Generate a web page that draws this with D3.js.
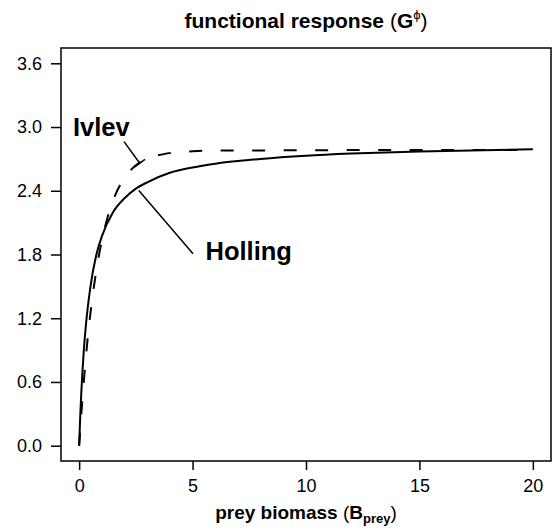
<!DOCTYPE html>
<html>
<head>
<meta charset="utf-8">
<script src="https://cdn.jsdelivr.net/npm/d3@7"></script>
<style>
  body { margin: 0; background: #fff; }
  svg { display: block; font-family: "Liberation Sans", Arial, Helvetica, sans-serif; }
  .tick text { font-size: 18px; fill: #000; }
  .tick line { stroke: #000; stroke-width: 1.5; }
</style>
</head>
<body>
<div id="chart"></div>
<script>
// prey biomass values where the curves were read
const biomass = [0, 0.05, 0.1, 0.2, 0.3, 0.5, 0.75, 1, 1.5, 2, 2.5, 3, 4, 5, 6, 8, 10, 12, 15, 20];
// Holling type II response (solid)
const holling = [0, 0.29, 0.52, 0.88, 1.14, 1.5, 1.79, 1.97, 2.2, 2.33, 2.42, 2.48, 2.57, 2.62, 2.655, 2.70, 2.73, 2.75, 2.77, 2.79];
// Ivlev response (dashed)
const ivlev = [0, 0.16, 0.31, 0.59, 0.84, 1.25, 1.64, 1.93, 2.31, 2.52, 2.64, 2.70, 2.755, 2.772, 2.778, 2.78, 2.782, 2.783, 2.784, 2.785];

const xTicks = [0, 5, 10, 15, 20];
const yTicks = [0, 0.6, 1.2, 1.8, 2.4, 3.0, 3.6];

const W = 553, H = 530;
const margin = { top: 48, left: 61, right: 2, bottom: 69 };

const svg = d3.select("#chart").append("svg")
  .attr("width", W)
  .attr("height", H);

const x = d3.scaleLinear().domain([-0.8, 20.8]).range([margin.left, W - margin.right]);
const y = d3.scaleLinear().domain([-0.144, 3.744]).range([H - margin.bottom, margin.top]);

// x axis
svg.append("g")
  .attr("transform", `translate(0,${H - margin.bottom})`)
  .call(d3.axisBottom(x).tickValues(xTicks).tickSize(9).tickPadding(9).tickSizeOuter(0))
  .call(g => g.select(".domain").remove());

// y axis
svg.append("g")
  .attr("transform", `translate(${margin.left},0)`)
  .call(d3.axisLeft(y).tickValues(yTicks).tickSize(10).tickPadding(9)
    .tickFormat(d3.format(".1f")).tickSizeOuter(0))
  .call(g => g.select(".domain").remove());

// plot box
svg.append("rect")
  .attr("x", margin.left)
  .attr("y", margin.top)
  .attr("width", W - margin.right - margin.left)
  .attr("height", H - margin.bottom - margin.top)
  .attr("fill", "none")
  .attr("stroke", "#000")
  .attr("stroke-width", 1.5);

const line = vals => d3.line()
  .x((d, i) => x(biomass[i]))
  .y(d => y(d))
  .curve(d3.curveMonotoneX)(vals);

svg.append("path")
  .attr("d", line(ivlev))
  .attr("fill", "none")
  .attr("stroke", "#000")
  .attr("stroke-width", 2)
  .attr("stroke-dasharray", "13,18.5");

svg.append("path")
  .attr("d", line(holling))
  .attr("fill", "none")
  .attr("stroke", "#000")
  .attr("stroke-width", 2);

// labels with pointer lines
const labels = [
  { text: "Ivlev", lx: -0.27, ly: 2.916, from: [1.98, 2.863], to: [2.67, 2.659], bar: true },
  { text: "Holling", lx: 5.57, ly: 1.75, from: [5.02, 1.806], to: [2.63, 2.402], bar: false }
];

labels.forEach(l => {
  svg.append("text")
    .attr("x", x(l.lx))
    .attr("y", y(l.ly))
    .attr("font-size", 25.5)
    .attr("font-weight", "bold")
    .text(l.text);

  const x1 = x(l.from[0]), y1 = y(l.from[1]), x2 = x(l.to[0]), y2 = y(l.to[1]);
  svg.append("line")
    .attr("x1", x1).attr("y1", y1).attr("x2", x2).attr("y2", y2)
    .attr("stroke", "#000").attr("stroke-width", 1.5);

  if (l.bar) {
    const dx = x2 - x1, dy = y2 - y1, len = Math.hypot(dx, dy);
    const px = -dy / len * 6.5, py = dx / len * 6.5;
    svg.append("line")
      .attr("x1", x2 - px).attr("y1", y2 - py)
      .attr("x2", x2 + px).attr("y2", y2 + py)
      .attr("stroke", "#000").attr("stroke-width", 1.5);
  }
});

// title
const title = svg.append("text")
  .attr("x", (margin.left + W - margin.right) / 2)
  .attr("y", 28)
  .attr("text-anchor", "middle")
  .attr("font-size", 21)
  .attr("font-weight", "bold");
title.append("tspan").text("functional response ");
title.append("tspan").attr("font-weight", "normal").text("(");
title.append("tspan").text("G");
title.append("tspan").attr("font-size", 13).attr("font-weight", "normal").attr("dy", -9).text("ϕ");
title.append("tspan").attr("font-weight", "normal").attr("dy", 9).text(")");

// x axis title
const xt = svg.append("text")
  .attr("x", (margin.left + W - margin.right) / 2)
  .attr("y", 519)
  .attr("text-anchor", "middle")
  .attr("font-size", 19)
  .attr("font-weight", "bold");
xt.append("tspan").text("prey biomass ");
xt.append("tspan").attr("font-weight", "normal").text("(");
xt.append("tspan").text("B");
xt.append("tspan").attr("font-size", 13).attr("dy", 4).text("prey");
xt.append("tspan").attr("font-weight", "normal").attr("dy", -4).text(")");
</script>
</body>
</html>
